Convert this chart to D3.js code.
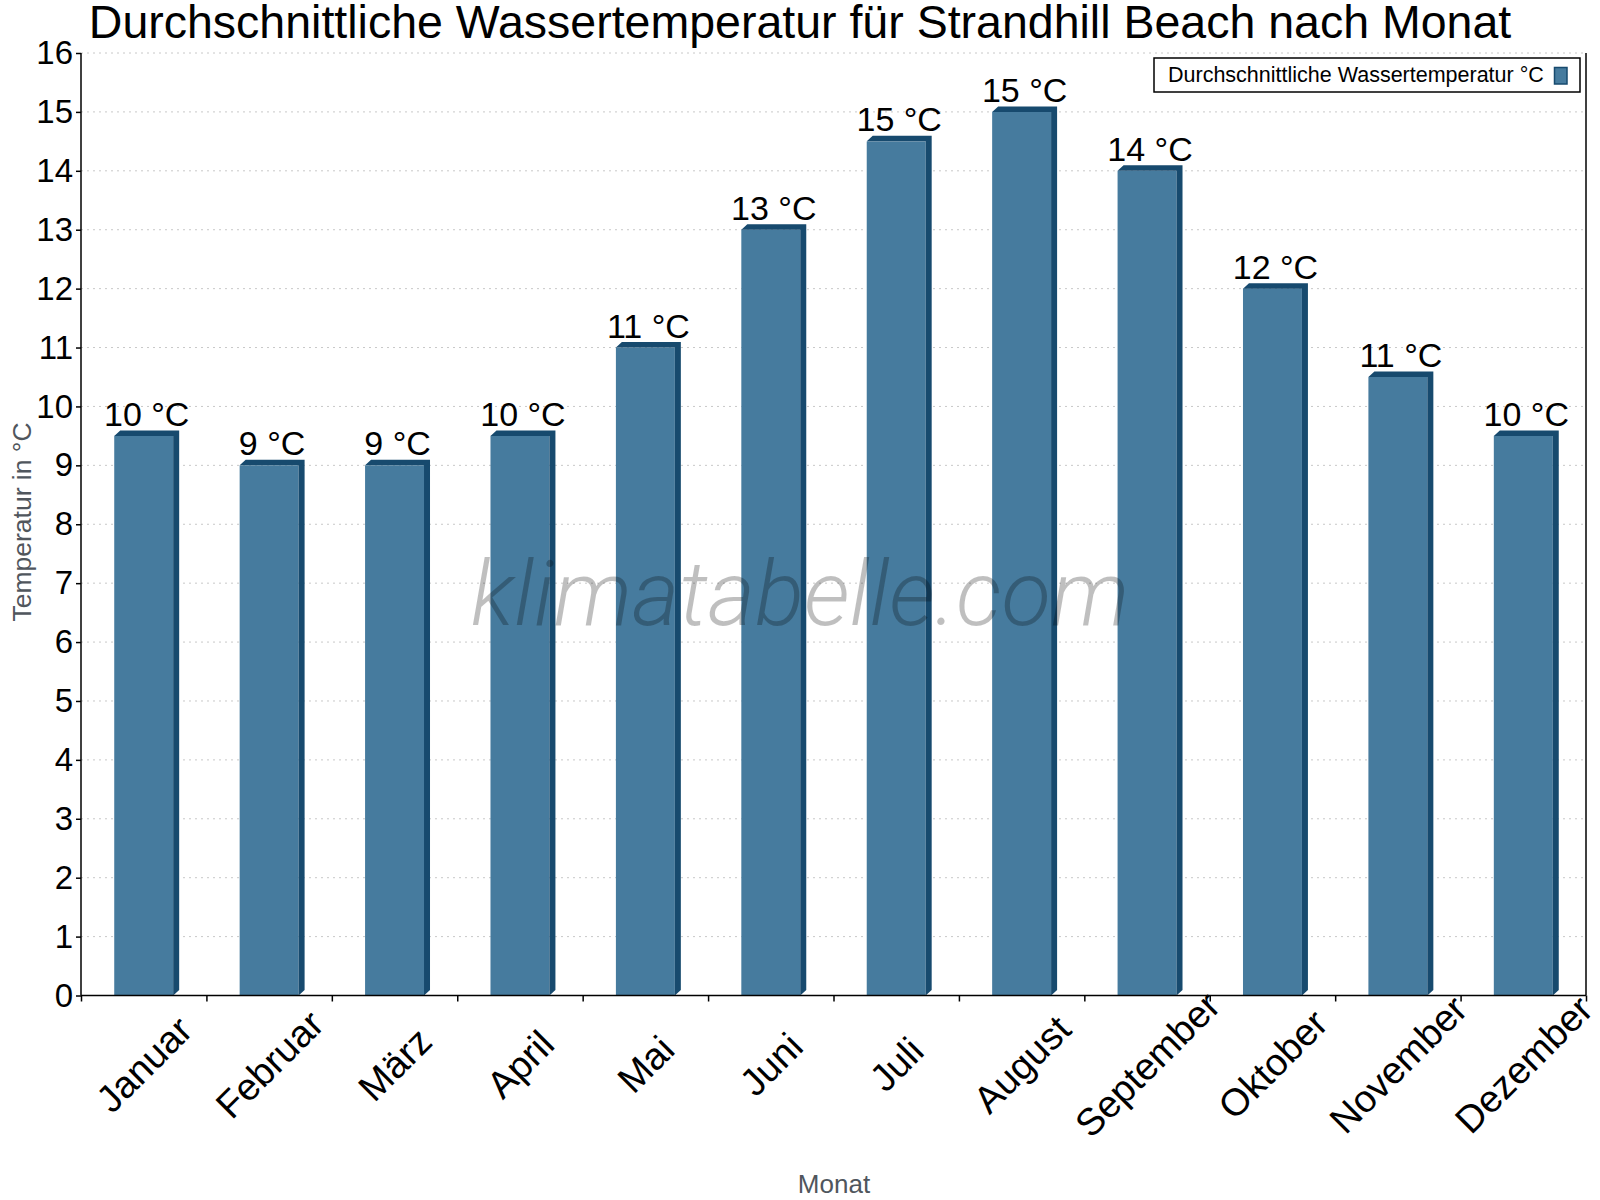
<!DOCTYPE html>
<html>
<head>
<meta charset="utf-8">
<script src="https://cdn.jsdelivr.net/npm/d3@7"></script>
<style>
  body { margin: 0; background: #fff; }
  svg { display: block; font-family: "Liberation Sans", Arial, sans-serif; }
</style>
</head>
<body>
<div id="chart"></div>
<script>
var months = ["Januar", "Februar", "März", "April", "Mai", "Juni", "Juli",
  "August", "September", "Oktober", "November", "Dezember"];
var waterTemp = [9.5, 9, 9, 9.5, 11, 13, 14.5, 15, 14, 12, 10.5, 9.5];
var tempLabels = ["10 °C", "9 °C", "9 °C", "10 °C", "11 °C", "13 °C", "15 °C",
  "15 °C", "14 °C", "12 °C", "11 °C", "10 °C"];
var seriesName = "Durchschnittliche Wassertemperatur °C";

var front = "#467b9e", dark = "#174a6e";
var plotLeft = 81, plotRight = 1586, plotTop = 53, plotBottom = 995.5;
var dx = 6, dy = 5.5;

var svg = d3.select("#chart").append("svg")
  .attr("width", 1600)
  .attr("height", 1200);

var x = d3.scaleBand().domain(months).range([plotLeft, plotRight]);
var xEdge = d3.scaleLinear().domain([0, months.length]).range([plotLeft, plotRight]);
var y = d3.scaleLinear().domain([0, 16]).range([plotBottom, plotTop]);

var barW = x.bandwidth() * 0.47;

//Grid
svg.append("g")
  .selectAll("line")
  .data(y.ticks(16).filter(function (d) { return d > 0; }))
  .enter().append("line")
  .attr("x1", plotLeft)
  .attr("x2", plotRight)
  .attr("y1", function (d) { return y(d); })
  .attr("y2", function (d) { return y(d); })
  .attr("stroke", "#c8c8c8")
  .attr("stroke-width", 1)
  .attr("stroke-dasharray", "2,4");

//Bars
var bars = svg.append("g")
  .selectAll("g")
  .data(waterTemp)
  .enter().append("g");

function x0(i) { return x(months[i]) + (x.bandwidth() - barW) / 2; }

bars.append("rect")
  .attr("x", function (d, i) { return x0(i); })
  .attr("y", function (d) { return y(d); })
  .attr("width", barW)
  .attr("height", function (d) { return plotBottom - y(d); })
  .attr("fill", front);

bars.append("path")
  .attr("fill", dark)
  .attr("d", function (d, i) {
    var a = x0(i), b = a + barW, t = y(d);
    return "M" + a + "," + t + "L" + (a + dx) + "," + (t - dy) +
      "L" + (b + dx) + "," + (t - dy) + "L" + (b + dx) + "," + (plotBottom - dy) +
      "L" + b + "," + plotBottom + "L" + b + "," + t + "Z";
  });

bars.append("text")
  .attr("x", function (d, i) { return x0(i) + (barW + dx) / 2; })
  .attr("y", function (d) { return y(d) - 10; })
  .attr("text-anchor", "middle")
  .attr("font-size", 34)
  .attr("fill", "#000")
  .text(function (d, i) { return tempLabels[i]; });

//Axes
var yAxis = svg.append("g")
  .attr("transform", "translate(" + plotLeft + ",0)")
  .call(d3.axisLeft(y).ticks(16).tickSize(5).tickPadding(3));
yAxis.selectAll("text").attr("font-size", 33).attr("fill", "#000")
  .attr("font-family", "'Liberation Sans', Arial, sans-serif");
yAxis.selectAll("line, path").attr("stroke", "#000").attr("stroke-width", 1.5);
yAxis.select(".domain").attr("d", "M0," + plotTop + "V" + plotBottom);

var xAxis = svg.append("g")
  .attr("transform", "translate(0," + plotBottom + ")")
  .call(d3.axisBottom(xEdge).ticks(12).tickSize(6).tickFormat(""));
xAxis.select(".domain").attr("d", "M" + plotLeft + ",0H" + plotRight);
xAxis.selectAll("line, path").attr("stroke", "#000").attr("stroke-width", 1.5);

svg.append("line")
  .attr("x1", plotRight).attr("x2", plotRight)
  .attr("y1", plotTop).attr("y2", plotBottom)
  .attr("stroke", "#000").attr("stroke-width", 1.5);

svg.append("g")
  .selectAll("text")
  .data(months)
  .enter().append("text")
  .attr("transform", function (d) {
    return "translate(" + (x(d) + x.bandwidth() / 2) + ",1064) rotate(-45)";
  })
  .attr("text-anchor", "middle")
  .attr("dy", "0.36em")
  .attr("font-size", 38)
  .attr("fill", "#000")
  .text(function (d) { return d; });

//Titles
svg.append("text")
  .attr("x", 800).attr("y", 38)
  .attr("text-anchor", "middle")
  .attr("font-size", 46.5)
  .attr("fill", "#000")
  .text("Durchschnittliche Wassertemperatur für Strandhill Beach nach Monat");

svg.append("text")
  .attr("transform", "translate(31,522) rotate(-90)")
  .attr("text-anchor", "middle")
  .attr("font-size", 26.5)
  .attr("fill", "#50565d")
  .text("Temperatur in °C");

svg.append("text")
  .attr("x", 834).attr("y", 1193)
  .attr("text-anchor", "middle")
  .attr("font-size", 26)
  .attr("fill", "#50565d")
  .text("Monat");

//Legend
svg.append("rect")
  .attr("x", 1154).attr("y", 58)
  .attr("width", 426).attr("height", 34)
  .attr("fill", "#fff")
  .attr("stroke", "#000").attr("stroke-width", 1.5);
svg.append("text")
  .attr("x", 1168).attr("y", 81.5)
  .attr("font-size", 21.5)
  .attr("fill", "#000")
  .text(seriesName);
svg.append("rect")
  .attr("x", 1554.5).attr("y", 67.5)
  .attr("width", 12.5).attr("height", 16.5)
  .attr("fill", front)
  .attr("stroke", dark).attr("stroke-width", 1.5);

//Watermark
svg.append("text")
  .attr("x", 800).attr("y", 625)
  .attr("text-anchor", "middle")
  .attr("font-family", "Roboto, 'Open Sans', sans-serif")
  .attr("font-weight", 300)
  .attr("font-style", "italic")
  .attr("font-size", 91)
  .attr("fill", "rgba(0,0,0,0.25)")
  .text("klimatabelle.com");
</script>
</body>
</html>
